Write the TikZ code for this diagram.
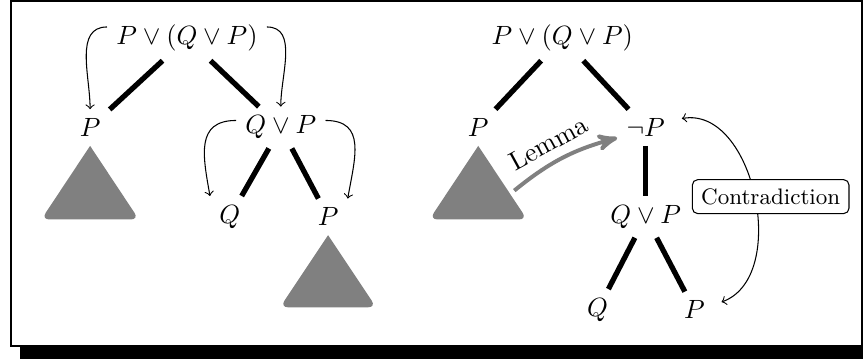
\documentclass[tikz,border=0pt]{standalone}
\usepackage{amsmath,amssymb}
\usepackage{xcolor}
\usetikzlibrary{arrows, positioning}

\begin{document}
\begin{tikzpicture}[node distance=1.19cm]
    \tikzstyle{edge} = [draw, line width=2pt]
    \tikzstyle{move} = [draw, ->]
    \tikzstyle{subtree} = [fill=gray]
    \tikzstyle{lemma} = [draw=gray, line width=1.5pt, -stealth']
    \tikzstyle{tag} = [draw, fill=white, rounded corners=2pt, font=\fontsize{8.5}{10}\selectfont]

    \useasboundingbox (0,0) rectangle (11.495,4.769);
    \fill (0.266,-0.3) rectangle (11.8,4.6);
    \draw [fill=white, line width=0.8pt] (0.147,0.160) rectangle (11.48,4.755);

    \node (rootA) at (2.49,4.26) {$P \vee (Q \vee P)$};
    \node [below of=rootA, xshift=-1.29cm] (pA) {$P$};
    \node [below of=rootA, xshift=1.25cm] (qpA) {$Q \vee P$};
    \node [below of=qpA, xshift=-0.68cm] (qA) {$Q$};
    \node [below of=qpA, xshift=0.63cm] (ppA) {$P$};

    \path [edge] (rootA) -- (pA);
    \path [edge] (rootA) -- (qpA);
    \path [edge] (qpA) -- (qA);
    \path [edge] (qpA) -- (ppA);

    \fill [subtree] (pA.south) [rounded corners=3pt] -- ++(-0.65,-0.98) -- ++(1.3,0) [sharp corners] -- cycle;
    \fill [subtree] (ppA.south) [rounded corners=3pt] -- ++(-0.64,-0.96) -- ++(1.28,0) [sharp corners] -- cycle;

    \path [move] (rootA.172) to [out=180, in=90] (pA.north);
    \path [move] (rootA.8) to [out=0, in=90] (qpA.north);
    \path [move] (qpA.171) to [out=180, in=100, looseness=1.3] (qA.north west);
    \path [move] (qpA.9) to [out=0, in=80, looseness=1.3] (ppA.north east);

    \node (rootB) at (7.49,4.26) {$P \vee (Q \vee P)$};
    \node [below of=rootB, xshift=-1.12cm] (pB) {$P$};
    \node [below of=rootB, xshift=1.11cm] (negB) {$\neg P$};
    \node [below of=negB] (qpB) {$Q \vee P$};
    \node [below of=qpB, xshift=-0.64cm, yshift=-0.05cm] (qB) {$Q$};
    \node [below of=qpB, xshift=0.65cm, yshift=-0.05cm] (ppB) {$P$};
    \coordinate (lemmaA) at ([xshift=0.48cm, yshift=-0.84cm]pB.center);

    \path [edge] (rootB) -- (pB);
    \path [edge] (rootB) -- (negB);
    \path [edge] (negB) -- (qpB);
    \path [edge] (qpB) -- (qB);
    \path [edge] (qpB) -- (ppB);

    \fill [subtree] (pB.south) [rounded corners=3pt] -- ++(-0.65,-0.98) -- ++(1.3,0) [sharp corners] -- cycle;
    \path [lemma] (lemmaA) to [bend left=12] node [sloped, above, pos=0.45, text=black] {Lemma} (negB.200);
    \path [move, <->, shorten <=3pt, shorten >=3pt] (negB.15) to [out=10, in=20, looseness=1.1] node [tag, xshift=0.24cm] {Contradiction} (ppB.15);
\end{tikzpicture}
\end{document}
